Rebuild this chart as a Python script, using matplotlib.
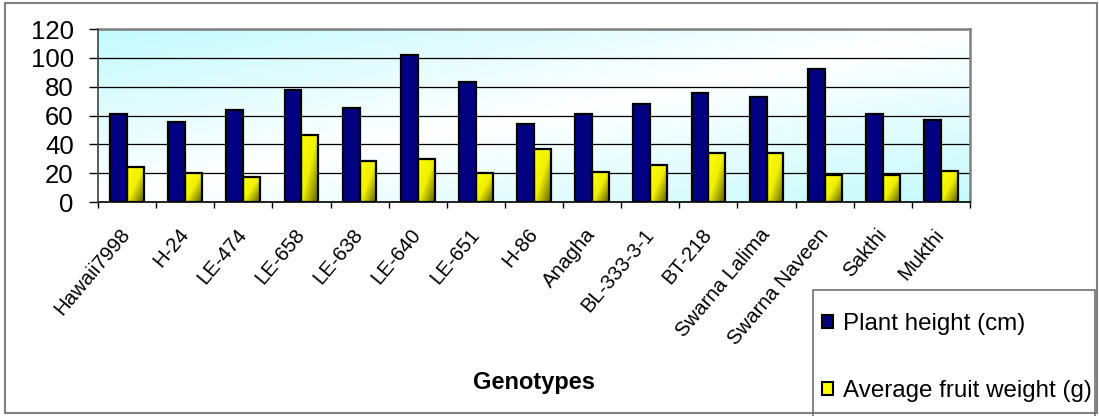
import numpy as np
import matplotlib
matplotlib.use("Agg")
import matplotlib.pyplot as plt
from matplotlib.patches import Rectangle, Patch
from matplotlib.colors import LinearSegmentedColormap

plt.rcParams['font.family'] = ['Liberation Sans', 'DejaVu Sans']

genotypes = ["Hawaii7998", "H-24", "LE-474", "LE-658", "LE-638", "LE-640", "LE-651",
             "H-86", "Anagha", "BL-333-3-1", "BT-218", "Swarna Lalima",
             "Swarna Naveen", "Sakthi", "Mukthi"]
plant_height = [61, 55.5, 63.5, 77.5, 65, 102, 83.5, 54, 61, 68, 75.5, 73, 92, 61, 57]
fruit_weight = [24, 20, 17, 46.5, 28.5, 30, 20, 36.5, 21, 26, 34, 34, 19, 19, 21.5]
yticks = [0, 20, 40, 60, 80, 100, 120]

W, H = 1099, 416
fig = plt.figure(figsize=(W / 100, H / 100), dpi=100)
ax = fig.add_axes([98 / W, 1 - 202 / H, (970 - 98) / W, (202 - 29) / H])

x = np.arange(len(genotypes))
bw = 0.29

# background gradient: cyan at top-left and bottom-right, white across the middle
bg_cmap = LinearSegmentedColormap.from_list("bg", ["#c4fafd", "#ffffff", "#c4fafd"])
gx, gy = np.meshgrid(np.linspace(0, 1, 200), np.linspace(0, 1, 60))
d = (gx + gy) / 2  # image origin upper -> gy=0 at top
ax.imshow(d, extent=[-0.5, 14.5, 0, 120], aspect='auto', cmap=bg_cmap,
          vmin=0, vmax=1, zorder=0, origin='upper')

ax.bar(x - bw / 2, plant_height, bw, color='#000080', edgecolor='black', linewidth=1.6, zorder=3)
ybars = ax.bar(x + bw / 2, fruit_weight, bw, color='#ffff00', edgecolor='none', zorder=2)

# yellow bars shade darker to the lower right
y_cmap = LinearSegmentedColormap.from_list("yl", [(0, "#ffff00"), (0.5, "#f0f000"), (1, "#606000")])
bx, by = np.meshgrid(np.linspace(0, 1, 20), np.linspace(0, 1, 80))
for b in ybars:
    x0 = b.get_x()
    h = b.get_height()
    g = (bx + by) / 2
    im = ax.imshow(g, extent=[x0, x0 + bw, 0, h], aspect='auto', cmap=y_cmap,
                   vmin=0, vmax=1, zorder=2.5, origin='upper')
    im.set_clip_path(b)
ax.bar(x + bw / 2, fruit_weight, bw, color='none', edgecolor='black', linewidth=1.6, zorder=3)

ax.set_xlim(-0.5, 14.5)
ax.set_ylim(0, 120)
ax.set_yticks(yticks)
ax.set_yticklabels([str(v) for v in yticks], fontsize=18.5)
ax.tick_params(axis='y', length=6.5, width=1, pad=11, direction='out')

ax.set_xticks(x)
ax.set_xticklabels(genotypes, fontsize=14.7, rotation=50, ha='right', va='center',
                   rotation_mode='anchor')
ax.tick_params(axis='x', which='major', length=0, pad=21)
ax.set_xticks(np.arange(-0.5, 15, 1), minor=True)
ax.tick_params(axis='x', which='minor', length=4.5, width=1, direction='out')

ax.yaxis.grid(True, color='black', linewidth=0.9, zorder=1)
ax.set_axisbelow(True)
for s in ['top', 'right']:
    ax.spines[s].set_color('#808080')
    ax.spines[s].set_linewidth(1.8)
ax.spines['left'].set_color('#404040')
ax.spines['bottom'].set_color('black')
ax.spines['left'].set_linewidth(1.2)
ax.spines['bottom'].set_linewidth(1.2)
ax.spines['left'].set_zorder(4)

fig.text(534 / W, 1 - 382 / H, "Genotypes", fontsize=17, fontweight='bold',
         ha='center', va='center')

# outer chart border
fig.patches.append(Rectangle((5 / W, 3 / H), (1097 - 5) / W, (413 - 3) / H,
                             transform=fig.transFigure, fill=False,
                             edgecolor='#808080', linewidth=1.5))
# legend border (runs off the bottom edge)
fig.patches.append(Rectangle((813 / W, -0.05), (1095 - 813) / W, (416 - 290) / H + 0.05,
                             transform=fig.transFigure, fill=False,
                             edgecolor='#707070', linewidth=1.2))

handles = [Patch(facecolor='#000080', edgecolor='black', linewidth=1.5),
           Patch(facecolor='#ffff00', edgecolor='black', linewidth=1.5)]
fig.legend(handles, ["Plant height (cm)", "Average fruit weight (g)"],
           loc='upper left', bbox_to_anchor=(822 / W, 1 - 313 / H),
           frameon=False, fontsize=17.4, handlelength=0.45, handleheight=0.45,
           handletextpad=0.42, labelspacing=1.85, borderpad=0, borderaxespad=0)

fig.savefig("out.png", dpi=100)
